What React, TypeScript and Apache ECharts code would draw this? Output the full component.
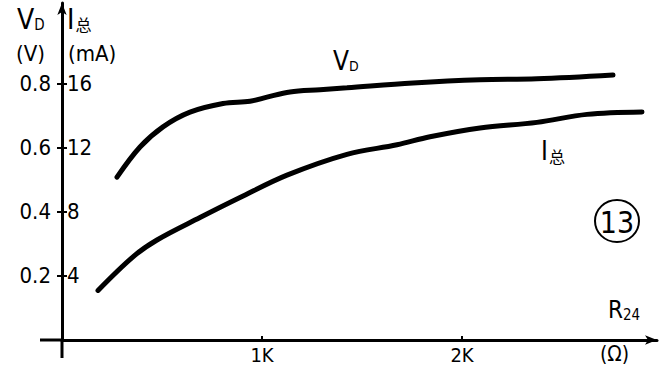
import React, { useEffect, useRef } from "react";
import * as echarts from "echarts";

const rForVd = [275, 390, 505, 640, 805, 940, 1025, 1140, 1290, 1425, 1755, 2090, 2375, 2755];
const vdValues = [0.509, 0.603, 0.666, 0.712, 0.739, 0.746, 0.759, 0.775, 0.782, 0.788, 0.803, 0.813, 0.816, 0.828];
const rForI = [180, 355, 475, 690, 890, 1125, 1425, 1675, 1840, 2090, 2375, 2625, 2900];
const iValues = [3.1, 5.2, 6.25, 7.65, 8.9, 10.3, 11.6, 12.2, 12.7, 13.25, 13.6, 14.1, 14.25];
const xTicks = [1000, 2000];
const xTickLabels = ["1K", "2K"];
const vTicks = [0.2, 0.4, 0.6, 0.8];
const iTicks = [4, 8, 12, 16];

const FONT = "'DejaVu Sans Condensed', 'DejaVu Sans', sans-serif";
const CJK = "'Noto Sans CJK SC', sans-serif";

export default function App() {
  const ref = useRef<HTMLDivElement>(null);
  useEffect(() => {
    if (!ref.current) return;
    const chart = echarts.init(ref.current, null, { renderer: "svg" });
    const vdData = rForVd.map((r, i) => [r, vdValues[i]]);
    const iData = rForI.map((r, i) => [r, iValues[i]]);
    chart.setOption({
      animation: false,
      backgroundColor: "#fff",
      grid: { left: 62, right: 11, top: 3, bottom: 34, outerBoundsMode: "none", containLabel: false },
      xAxis: {
        type: "value",
        min: 0,
        max: 2975,
        axisLine: {
          onZero: false,
          lineStyle: { color: "#000", width: 3 },
          symbol: ["none", "arrow"],
          symbolSize: [7, 12],
        },
        axisTick: { show: true, customValues: xTicks, length: 4, inside: true, lineStyle: { color: "#000", width: 2 } },
        axisLabel: {
          customValues: xTicks,
          formatter: (v: number) => xTickLabels[xTicks.indexOf(v)] ?? "",
          color: "#000",
          fontFamily: FONT,
          fontSize: 20,
          margin: 5,
        },
        splitLine: { show: false },
      },
      yAxis: [
        {
          type: "value",
          min: 0,
          max: 1.053,
          axisLine: {
            onZero: false,
            lineStyle: { color: "#000", width: 3 },
            symbol: ["none", "arrow"],
            symbolSize: [7, 12],
          },
          axisTick: { show: true, customValues: vTicks, length: 5, lineStyle: { color: "#000", width: 2 } },
          axisLabel: {
            customValues: vTicks,
            formatter: (v: number) => v.toFixed(1),
            color: "#000",
            fontFamily: FONT,
            fontSize: 22,
            margin: 11,
          },
          splitLine: { show: false },
        },
        {
          type: "value",
          position: "left",
          min: 0,
          max: 21.06,
          axisLine: { show: false, onZero: false },
          axisTick: { show: true, inside: true, customValues: iTicks, length: 5, lineStyle: { color: "#000", width: 2 } },
          axisLabel: {
            inside: true,
            customValues: iTicks,
            formatter: (v: number) => String(v),
            color: "#000",
            fontFamily: FONT,
            fontSize: 22,
            margin: 5,
          },
          splitLine: { show: false },
        },
      ],
      series: [
        {
          name: "VD",
          type: "line",
          yAxisIndex: 0,
          data: vdData,
          smooth: 0.35,
          showSymbol: false,
          lineStyle: { color: "#000", width: 5, cap: "round" },
        },
        {
          name: "I总",
          type: "line",
          yAxisIndex: 1,
          data: iData,
          smooth: 0.35,
          showSymbol: false,
          lineStyle: { color: "#000", width: 5, cap: "round" },
        },
      ],
      graphic: [
        { type: "line", shape: { x1: 40, y1: 340, x2: 62, y2: 340 }, style: { stroke: "#000", lineWidth: 3 } },
        { type: "line", shape: { x1: 62, y1: 340, x2: 62, y2: 358 }, style: { stroke: "#000", lineWidth: 3 } },
        {
          type: "text",
          left: 17,
          top: 5,
          style: {
            text: "{a|V}{b|D}",
            rich: {
              a: { fontFamily: FONT, fontSize: 28, fill: "#000" },
              b: { fontFamily: FONT, fontSize: 15, fill: "#000", padding: [11, 0, 0, 0] },
            },
          },
        },
        {
          type: "text",
          left: 67,
          top: 5,
          style: {
            text: "{a|I}{b|总}",
            rich: {
              a: { fontFamily: FONT, fontSize: 28, fill: "#000" },
              b: { fontFamily: CJK, fontSize: 16, fill: "#000", padding: [9, 0, 0, 1] },
            },
          },
        },
        { type: "text", left: 16, top: 42, style: { text: "(V)", fontFamily: FONT, fontSize: 22, fill: "#000" } },
        { type: "text", left: 68, top: 42, style: { text: "(mA)", fontFamily: FONT, fontSize: 22, fill: "#000" } },
        {
          type: "text",
          left: 333,
          top: 48,
          style: {
            text: "{a|V}{b|D}",
            rich: {
              a: { fontFamily: FONT, fontSize: 26, fill: "#000" },
              b: { fontFamily: FONT, fontSize: 14, fill: "#000", padding: [10, 0, 0, 0] },
            },
          },
        },
        {
          type: "text",
          left: 541,
          top: 138,
          style: {
            text: "{a|I}{b|总}",
            rich: {
              a: { fontFamily: FONT, fontSize: 26, fill: "#000" },
              b: { fontFamily: CJK, fontSize: 16, fill: "#000", padding: [9, 0, 0, 1] },
            },
          },
        },
        {
          type: "text",
          left: 608,
          top: 298,
          style: {
            text: "{a|R}{b|24}",
            rich: {
              a: { fontFamily: FONT, fontSize: 24, fill: "#000" },
              b: { fontFamily: FONT, fontSize: 15, fill: "#000", padding: [9, 0, 0, 0] },
            },
          },
        },
        { type: "text", left: 600, top: 343, style: { text: "(Ω)", fontFamily: FONT, fontSize: 21, fill: "#000" } },
        {
          type: "ellipse",
          shape: { cx: 617, cy: 221, rx: 22, ry: 21 },
          style: { fill: "none", stroke: "#000", lineWidth: 2 },
        },
        {
          type: "text",
          x: 617,
          y: 222,
          style: { text: "13", fontFamily: FONT, fontSize: 30, fill: "#000", align: "center", verticalAlign: "middle" },
        },
      ],
    });
    return () => chart.dispose();
  }, []);
  return (
    <div
      ref={ref}
      style={{ position: "fixed", left: 0, top: 0, width: 668, height: 374, background: "#fff" }}
    />
  );
}
